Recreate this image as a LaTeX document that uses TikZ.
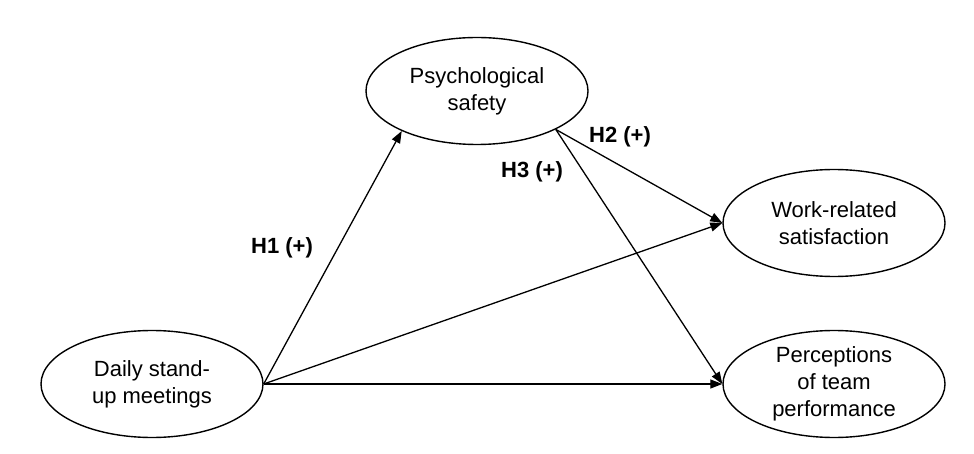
\documentclass[tikz,border=0pt]{standalone}
\usepackage{fontspec}
\setmainfont{Liberation Sans}
\usepackage{tikz}
\usetikzlibrary{shapes.geometric,arrows.meta,positioning}

\begin{document}
\begin{tikzpicture}[
  x=0.5pt, y=-0.5pt,
  construct/.style={ellipse, draw, line width=0.7pt, inner sep=0pt,
              minimum width=111pt, minimum height=53.5pt,
              font=\fontsize{11}{13.4}\selectfont, align=center},
  path/.style={line width=0.65pt, -{Triangle[length=6pt,width=4.5pt]}},
  hyp/.style={font=\fontsize{11}{13.4}\selectfont\bfseries},
]
  \useasboundingbox (0,0) rectangle (974,454);

  % Constructs
  \node[construct] (daily) at (152,384) {Daily stand-\\up meetings};
  \node[construct] (psych) at (477,91) {Psychological\\safety};
  \node[construct] (work)  at (834,223) {Work-related\\satisfaction};
  \node[construct] (perf)  at (834,384) {Perceptions\\of team\\performance};

  % Paths
  \draw[path] (daily.east) -- (psych.208);
  \draw[path] (daily.east) -- (work.west);
  \draw[path] (daily.east) -- (perf.west);
  \draw[path] (psych.334) -- (work.west);
  \draw[path] (psych.334) -- (perf.west);

  % Hypotheses
  \node[hyp] (h1) at (282,248) {H1 (+)};
  \node[hyp] (h2) at (620,137) {H2 (+)};
  \node[hyp] (h3) at (532,172) {H3 (+)};
\end{tikzpicture}
\end{document}
